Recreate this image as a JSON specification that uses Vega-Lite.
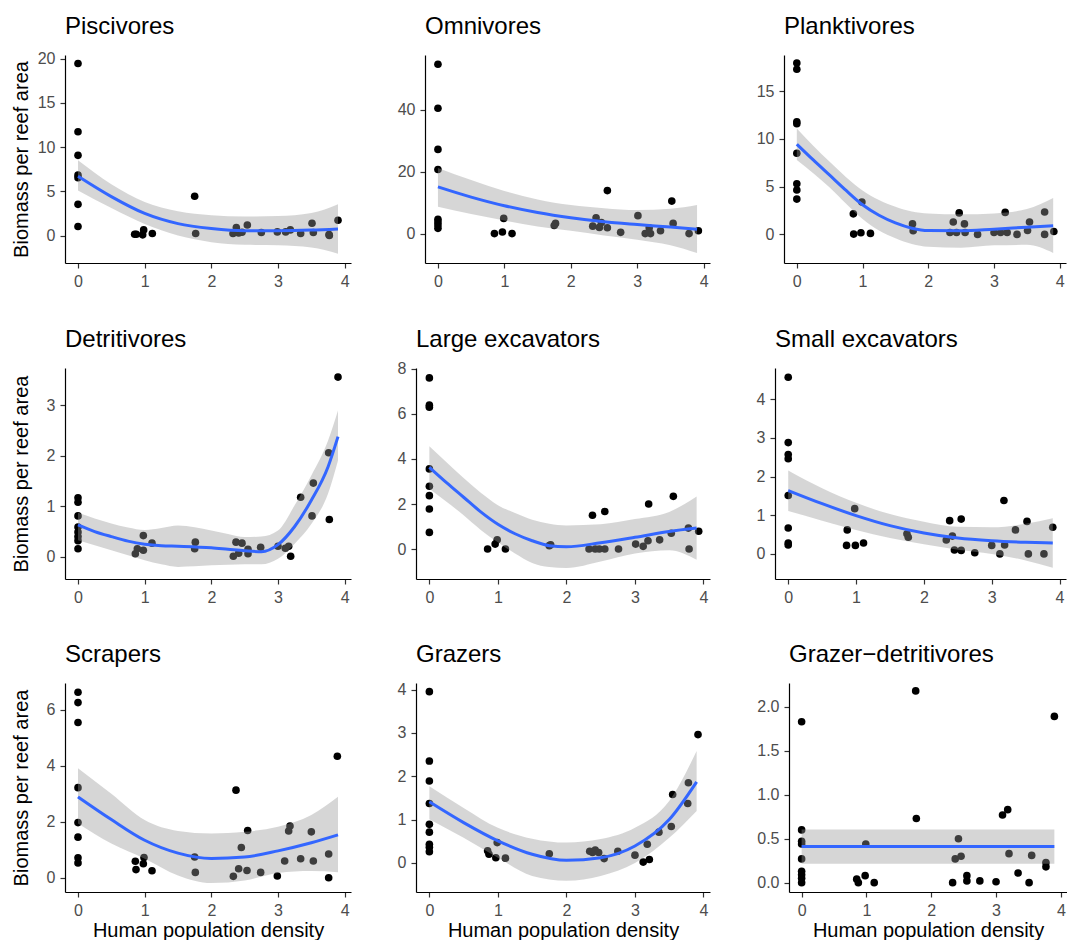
{
"$schema": "https://vega.github.io/schema/vega-lite/v6.json",
"background": "white",
"padding": {"left": 11, "top": 15, "right": 0, "bottom": 0},
"datasets": {
"pts": [
{"g":"Piscivores","x":0,"y":19.44},{"g":"Piscivores","x":0,"y":11.73},{"g":"Piscivores","x":0,"y":9.06},{"g":"Piscivores","x":0,"y":6.84},{"g":"Piscivores","x":0,"y":6.54},{"g":"Piscivores","x":0,"y":3.53},{"g":"Piscivores","x":0,"y":1.02},
{"g":"Piscivores","x":0.85,"y":0.15},{"g":"Piscivores","x":0.875,"y":0.15},{"g":"Piscivores","x":0.97,"y":0.08},{"g":"Piscivores","x":0.985,"y":0.64},{"g":"Piscivores","x":1.115,"y":0.23},{"g":"Piscivores","x":1.75,"y":4.44},{"g":"Piscivores","x":1.765,"y":0.23},{"g":"Piscivores","x":2.325,"y":0.23},{"g":"Piscivores","x":2.375,"y":0.9},{"g":"Piscivores","x":2.41,"y":0.3},{"g":"Piscivores","x":2.46,"y":0.38},{"g":"Piscivores","x":2.54,"y":1.2},{"g":"Piscivores","x":2.75,"y":0.34},{"g":"Piscivores","x":2.99,"y":0.41},{"g":"Piscivores","x":3.115,"y":0.41},{"g":"Piscivores","x":3.185,"y":0.64},{"g":"Piscivores","x":3.34,"y":0.23},{"g":"Piscivores","x":3.51,"y":1.39},{"g":"Piscivores","x":3.53,"y":0.34},{"g":"Piscivores","x":3.765,"y":0.11},{"g":"Piscivores","x":3.77,"y":0.02},{"g":"Piscivores","x":3.9,"y":1.73},
{"g":"Omnivores","x":0,"y":54.7},{"g":"Omnivores","x":0,"y":40.5},{"g":"Omnivores","x":0,"y":27.2},{"g":"Omnivores","x":0,"y":20.7},{"g":"Omnivores","x":0,"y":4.6},{"g":"Omnivores","x":0,"y":3.75},{"g":"Omnivores","x":0,"y":2.8},{"g":"Omnivores","x":0,"y":1.7},
{"g":"Omnivores","x":0.85,"y":0},{"g":"Omnivores","x":0.97,"y":0.5},{"g":"Omnivores","x":0.99,"y":4.9},{"g":"Omnivores","x":1.115,"y":0},{"g":"Omnivores","x":1.75,"y":2.6},{"g":"Omnivores","x":1.77,"y":3.3},{"g":"Omnivores","x":2.33,"y":2.4},{"g":"Omnivores","x":2.38,"y":5.1},{"g":"Omnivores","x":2.43,"y":2.0},{"g":"Omnivores","x":2.46,"y":3.6},{"g":"Omnivores","x":2.55,"y":1.9},{"g":"Omnivores","x":2.55,"y":13.9},{"g":"Omnivores","x":2.75,"y":0.4},{"g":"Omnivores","x":3.01,"y":5.8},{"g":"Omnivores","x":3.12,"y":0},{"g":"Omnivores","x":3.18,"y":1.9},{"g":"Omnivores","x":3.2,"y":0},{"g":"Omnivores","x":3.35,"y":0.9},{"g":"Omnivores","x":3.52,"y":10.5},{"g":"Omnivores","x":3.54,"y":3.3},{"g":"Omnivores","x":3.78,"y":0},{"g":"Omnivores","x":3.92,"y":0.9},
{"g":"Planktivores","x":0,"y":17.95},{"g":"Planktivores","x":0,"y":17.3},{"g":"Planktivores","x":0,"y":11.8},{"g":"Planktivores","x":0,"y":11.6},{"g":"Planktivores","x":0,"y":8.5},{"g":"Planktivores","x":0,"y":5.3},{"g":"Planktivores","x":0,"y":4.65},{"g":"Planktivores","x":0,"y":3.7},
{"g":"Planktivores","x":0.86,"y":2.15},{"g":"Planktivores","x":0.865,"y":0.03},{"g":"Planktivores","x":0.975,"y":0.17},{"g":"Planktivores","x":0.99,"y":3.4},{"g":"Planktivores","x":1.12,"y":0.1},{"g":"Planktivores","x":1.76,"y":1.1},{"g":"Planktivores","x":1.77,"y":0.38},{"g":"Planktivores","x":2.33,"y":0.2},{"g":"Planktivores","x":2.38,"y":1.3},{"g":"Planktivores","x":2.43,"y":0.2},{"g":"Planktivores","x":2.47,"y":2.25},{"g":"Planktivores","x":2.55,"y":1.1},{"g":"Planktivores","x":2.56,"y":0.2},{"g":"Planktivores","x":2.75,"y":0},{"g":"Planktivores","x":3.0,"y":0.2},{"g":"Planktivores","x":3.1,"y":0.2},{"g":"Planktivores","x":3.17,"y":2.3},{"g":"Planktivores","x":3.2,"y":0.2},{"g":"Planktivores","x":3.35,"y":0},{"g":"Planktivores","x":3.51,"y":0.4},{"g":"Planktivores","x":3.54,"y":1.3},{"g":"Planktivores","x":3.77,"y":2.35},{"g":"Planktivores","x":3.77,"y":0},{"g":"Planktivores","x":3.91,"y":0.3},
{"g":"Detritivores","x":0,"y":1.17},{"g":"Detritivores","x":0,"y":1.08},{"g":"Detritivores","x":0,"y":0.81},{"g":"Detritivores","x":0,"y":0.59},{"g":"Detritivores","x":0,"y":0.49},{"g":"Detritivores","x":0,"y":0.4},{"g":"Detritivores","x":0,"y":0.32},{"g":"Detritivores","x":0,"y":0.16},
{"g":"Detritivores","x":0.86,"y":0.06},{"g":"Detritivores","x":0.89,"y":0.16},{"g":"Detritivores","x":0.98,"y":0.42},{"g":"Detritivores","x":0.98,"y":0.13},{"g":"Detritivores","x":1.11,"y":0.27},{"g":"Detritivores","x":1.75,"y":0.16},{"g":"Detritivores","x":1.76,"y":0.29},{"g":"Detritivores","x":2.33,"y":0.01},{"g":"Detritivores","x":2.37,"y":0.29},{"g":"Detritivores","x":2.41,"y":0.07},{"g":"Detritivores","x":2.46,"y":0.27},{"g":"Detritivores","x":2.55,"y":0.15},{"g":"Detritivores","x":2.55,"y":0.06},{"g":"Detritivores","x":2.74,"y":0.19},{"g":"Detritivores","x":3.0,"y":0.21},{"g":"Detritivores","x":3.11,"y":0.17},{"g":"Detritivores","x":3.16,"y":0.21},{"g":"Detritivores","x":3.19,"y":0.01},{"g":"Detritivores","x":3.34,"y":1.18},{"g":"Detritivores","x":3.51,"y":0.81},{"g":"Detritivores","x":3.53,"y":1.46},{"g":"Detritivores","x":3.76,"y":2.06},{"g":"Detritivores","x":3.77,"y":0.74},{"g":"Detritivores","x":3.9,"y":3.56},
{"g":"Large excavators","x":0,"y":7.6},{"g":"Large excavators","x":0,"y":6.39},{"g":"Large excavators","x":0,"y":6.3},{"g":"Large excavators","x":0,"y":3.56},{"g":"Large excavators","x":0,"y":2.79},{"g":"Large excavators","x":0,"y":2.37},{"g":"Large excavators","x":0,"y":1.78},{"g":"Large excavators","x":0,"y":0.74},
{"g":"Large excavators","x":0.85,"y":0},{"g":"Large excavators","x":0.96,"y":0.22},{"g":"Large excavators","x":0.99,"y":0.41},{"g":"Large excavators","x":1.11,"y":0},{"g":"Large excavators","x":1.75,"y":0.15},{"g":"Large excavators","x":1.77,"y":0.19},{"g":"Large excavators","x":2.33,"y":0},{"g":"Large excavators","x":2.38,"y":1.5},{"g":"Large excavators","x":2.42,"y":0},{"g":"Large excavators","x":2.48,"y":0},{"g":"Large excavators","x":2.56,"y":1.67},{"g":"Large excavators","x":2.56,"y":0},{"g":"Large excavators","x":2.76,"y":0},{"g":"Large excavators","x":3.01,"y":0.22},{"g":"Large excavators","x":3.12,"y":0.12},{"g":"Large excavators","x":3.19,"y":0.37},{"g":"Large excavators","x":3.2,"y":2.0},{"g":"Large excavators","x":3.36,"y":0.41},{"g":"Large excavators","x":3.53,"y":0.7},{"g":"Large excavators","x":3.56,"y":2.34},{"g":"Large excavators","x":3.78,"y":0.93},{"g":"Large excavators","x":3.79,"y":0},{"g":"Large excavators","x":3.93,"y":0.79},
{"g":"Small excavators","x":0,"y":4.57},{"g":"Small excavators","x":0,"y":2.88},{"g":"Small excavators","x":0,"y":2.57},{"g":"Small excavators","x":0,"y":2.46},{"g":"Small excavators","x":0,"y":1.51},{"g":"Small excavators","x":0,"y":0.67},{"g":"Small excavators","x":0,"y":0.28},{"g":"Small excavators","x":0,"y":0.23},
{"g":"Small excavators","x":0.86,"y":0.22},{"g":"Small excavators","x":0.87,"y":0.62},{"g":"Small excavators","x":0.98,"y":1.17},{"g":"Small excavators","x":0.99,"y":0.22},{"g":"Small excavators","x":1.11,"y":0.28},{"g":"Small excavators","x":1.75,"y":0.52},{"g":"Small excavators","x":1.77,"y":0.43},{"g":"Small excavators","x":2.33,"y":0.36},{"g":"Small excavators","x":2.38,"y":0.86},{"g":"Small excavators","x":2.42,"y":0.46},{"g":"Small excavators","x":2.45,"y":0.1},{"g":"Small excavators","x":2.55,"y":0.9},{"g":"Small excavators","x":2.55,"y":0.09},{"g":"Small excavators","x":2.75,"y":0.03},{"g":"Small excavators","x":3.0,"y":0.22},{"g":"Small excavators","x":3.12,"y":0},{"g":"Small excavators","x":3.18,"y":1.38},{"g":"Small excavators","x":3.19,"y":0.23},{"g":"Small excavators","x":3.35,"y":0.62},{"g":"Small excavators","x":3.52,"y":0.84},{"g":"Small excavators","x":3.54,"y":0},{"g":"Small excavators","x":3.77,"y":0},{"g":"Small excavators","x":3.9,"y":0.69},
{"g":"Scrapers","x":0,"y":6.63},{"g":"Scrapers","x":0,"y":6.26},{"g":"Scrapers","x":0,"y":5.55},{"g":"Scrapers","x":0,"y":3.22},{"g":"Scrapers","x":0,"y":1.97},{"g":"Scrapers","x":0,"y":1.45},{"g":"Scrapers","x":0,"y":0.71},{"g":"Scrapers","x":0,"y":0.53},
{"g":"Scrapers","x":0.86,"y":0.59},{"g":"Scrapers","x":0.87,"y":0.29},{"g":"Scrapers","x":0.98,"y":0.5},{"g":"Scrapers","x":0.99,"y":0.72},{"g":"Scrapers","x":1.11,"y":0.25},{"g":"Scrapers","x":1.75,"y":0.74},{"g":"Scrapers","x":1.76,"y":0.19},{"g":"Scrapers","x":2.33,"y":0.05},{"g":"Scrapers","x":2.37,"y":3.13},{"g":"Scrapers","x":2.41,"y":0.32},{"g":"Scrapers","x":2.45,"y":1.08},{"g":"Scrapers","x":2.535,"y":0.26},{"g":"Scrapers","x":2.545,"y":1.69},{"g":"Scrapers","x":2.74,"y":0.19},{"g":"Scrapers","x":2.99,"y":0.06},{"g":"Scrapers","x":3.1,"y":0.6},{"g":"Scrapers","x":3.16,"y":1.67},{"g":"Scrapers","x":3.18,"y":1.85},{"g":"Scrapers","x":3.34,"y":0.68},{"g":"Scrapers","x":3.5,"y":1.64},{"g":"Scrapers","x":3.53,"y":0.6},{"g":"Scrapers","x":3.76,"y":0.85},{"g":"Scrapers","x":3.76,"y":0.0},{"g":"Scrapers","x":3.89,"y":4.34},
{"g":"Grazers","x":0,"y":3.95},{"g":"Grazers","x":0,"y":2.35},{"g":"Grazers","x":0,"y":1.89},{"g":"Grazers","x":0,"y":1.37},{"g":"Grazers","x":0,"y":0.89},{"g":"Grazers","x":0,"y":0.71},{"g":"Grazers","x":0,"y":0.43},{"g":"Grazers","x":0,"y":0.36},{"g":"Grazers","x":0,"y":0.26},
{"g":"Grazers","x":0.85,"y":0.28},{"g":"Grazers","x":0.87,"y":0.2},{"g":"Grazers","x":0.97,"y":0.12},{"g":"Grazers","x":0.99,"y":0.47},{"g":"Grazers","x":1.11,"y":0.11},{"g":"Grazers","x":1.75,"y":0.21},{"g":"Grazers","x":2.34,"y":0.27},{"g":"Grazers","x":2.38,"y":0.24},{"g":"Grazers","x":2.42,"y":0.3},{"g":"Grazers","x":2.47,"y":0.24},{"g":"Grazers","x":2.55,"y":0.1},{"g":"Grazers","x":2.75,"y":0.27},{"g":"Grazers","x":3.0,"y":0.18},{"g":"Grazers","x":3.12,"y":0.02},{"g":"Grazers","x":3.18,"y":0.43},{"g":"Grazers","x":3.21,"y":0.08},{"g":"Grazers","x":3.35,"y":0.71},{"g":"Grazers","x":3.53,"y":0.84},{"g":"Grazers","x":3.55,"y":1.58},{"g":"Grazers","x":3.77,"y":1.37},{"g":"Grazers","x":3.78,"y":1.85},{"g":"Grazers","x":3.92,"y":2.96},
{"g":"Grazer-detritivores","x":0,"y":1.83},{"g":"Grazer-detritivores","x":0,"y":0.6},{"g":"Grazer-detritivores","x":0,"y":0.47},{"g":"Grazer-detritivores","x":0,"y":0.44},{"g":"Grazer-detritivores","x":0,"y":0.27},{"g":"Grazer-detritivores","x":0,"y":0.13},{"g":"Grazer-detritivores","x":0,"y":0.09},{"g":"Grazer-detritivores","x":0,"y":0.05},{"g":"Grazer-detritivores","x":0,"y":0.0},
{"g":"Grazer-detritivores","x":0.85,"y":0.04},{"g":"Grazer-detritivores","x":0.875,"y":0},{"g":"Grazer-detritivores","x":0.98,"y":0.08},{"g":"Grazer-detritivores","x":0.99,"y":0.44},{"g":"Grazer-detritivores","x":1.12,"y":0},{"g":"Grazer-detritivores","x":1.76,"y":2.18},{"g":"Grazer-detritivores","x":1.77,"y":0.73},{"g":"Grazer-detritivores","x":2.33,"y":0},{"g":"Grazer-detritivores","x":2.37,"y":0.27},{"g":"Grazer-detritivores","x":2.42,"y":0.5},{"g":"Grazer-detritivores","x":2.46,"y":0.3},{"g":"Grazer-detritivores","x":2.55,"y":0.08},{"g":"Grazer-detritivores","x":2.55,"y":0.02},{"g":"Grazer-detritivores","x":2.75,"y":0.02},{"g":"Grazer-detritivores","x":3.0,"y":0.01},{"g":"Grazer-detritivores","x":3.1,"y":0.77},{"g":"Grazer-detritivores","x":3.18,"y":0.83},{"g":"Grazer-detritivores","x":3.2,"y":0.33},{"g":"Grazer-detritivores","x":3.34,"y":0.11},{"g":"Grazer-detritivores","x":3.51,"y":0},{"g":"Grazer-detritivores","x":3.55,"y":0.31},{"g":"Grazer-detritivores","x":3.77,"y":0.23},{"g":"Grazer-detritivores","x":3.77,"y":0.18},{"g":"Grazer-detritivores","x":3.9,"y":1.89}
],
"fit": [
{"g":"Piscivores","x":0,"f":6.7,"lo":5.1,"hi":8.5},{"g":"Piscivores","x":0.5,"f":4.4,"lo":3.1,"hi":5.8},{"g":"Piscivores","x":1,"f":2.5,"lo":1.3,"hi":3.8},{"g":"Piscivores","x":1.5,"f":1.35,"lo":0.0,"hi":2.75},{"g":"Piscivores","x":2,"f":0.8,"lo":-0.75,"hi":2.3},{"g":"Piscivores","x":2.5,"f":0.55,"lo":-1.05,"hi":2.15},{"g":"Piscivores","x":3,"f":0.55,"lo":-1.1,"hi":2.2},{"g":"Piscivores","x":3.5,"f":0.62,"lo":-1.35,"hi":2.55},{"g":"Piscivores","x":3.9,"f":0.75,"lo":-2.05,"hi":3.55},
{"g":"Omnivores","x":0,"f":15.1,"lo":8.7,"hi":21.2},{"g":"Omnivores","x":0.5,"f":11.8,"lo":6.3,"hi":17.3},{"g":"Omnivores","x":1,"f":9.0,"lo":4.2,"hi":13.8},{"g":"Omnivores","x":1.5,"f":6.8,"lo":2.3,"hi":11.0},{"g":"Omnivores","x":2,"f":5.1,"lo":0.9,"hi":9.2},{"g":"Omnivores","x":2.5,"f":3.8,"lo":-0.6,"hi":8.2},{"g":"Omnivores","x":3,"f":2.9,"lo":-2.0,"hi":7.6},{"g":"Omnivores","x":3.5,"f":2.1,"lo":-3.8,"hi":8.0},{"g":"Omnivores","x":3.9,"f":1.4,"lo":-6.3,"hi":9.2},
{"g":"Planktivores","x":0,"f":9.45,"lo":7.8,"hi":11.1},{"g":"Planktivores","x":0.25,"f":7.8,"lo":6.4,"hi":9.3},{"g":"Planktivores","x":0.5,"f":6.2,"lo":4.9,"hi":7.6},{"g":"Planktivores","x":0.75,"f":4.6,"lo":3.2,"hi":6.0},{"g":"Planktivores","x":1,"f":3.1,"lo":1.6,"hi":4.6},{"g":"Planktivores","x":1.25,"f":2.0,"lo":0.4,"hi":3.6},{"g":"Planktivores","x":1.5,"f":1.2,"lo":-0.4,"hi":2.9},{"g":"Planktivores","x":1.75,"f":0.65,"lo":-1.0,"hi":2.4},{"g":"Planktivores","x":2,"f":0.4,"lo":-1.3,"hi":2.2},{"g":"Planktivores","x":2.5,"f":0.38,"lo":-1.4,"hi":2.1},{"g":"Planktivores","x":3,"f":0.55,"lo":-1.15,"hi":2.2},{"g":"Planktivores","x":3.5,"f":0.75,"lo":-1.1,"hi":2.65},{"g":"Planktivores","x":3.9,"f":0.9,"lo":-1.95,"hi":3.8},
{"g":"Detritivores","x":0,"f":0.63,"lo":0.33,"hi":0.87},{"g":"Detritivores","x":0.25,"f":0.5,"lo":0.23,"hi":0.76},{"g":"Detritivores","x":0.5,"f":0.4,"lo":0.13,"hi":0.66},{"g":"Detritivores","x":0.75,"f":0.31,"lo":0.03,"hi":0.58},{"g":"Detritivores","x":1,"f":0.25,"lo":-0.07,"hi":0.53},{"g":"Detritivores","x":1.25,"f":0.22,"lo":-0.15,"hi":0.57},{"g":"Detritivores","x":1.5,"f":0.21,"lo":-0.2,"hi":0.62},{"g":"Detritivores","x":2,"f":0.18,"lo":-0.17,"hi":0.52},{"g":"Detritivores","x":2.25,"f":0.15,"lo":-0.16,"hi":0.45},{"g":"Detritivores","x":2.5,"f":0.12,"lo":-0.15,"hi":0.39},{"g":"Detritivores","x":2.75,"f":0.1,"lo":-0.15,"hi":0.4},{"g":"Detritivores","x":3,"f":0.24,"lo":-0.04,"hi":0.52},{"g":"Detritivores","x":3.25,"f":0.6,"lo":0.26,"hi":1.02},{"g":"Detritivores","x":3.5,"f":1.12,"lo":0.65,"hi":1.61},{"g":"Detritivores","x":3.75,"f":1.78,"lo":1.25,"hi":2.3},{"g":"Detritivores","x":3.9,"f":2.38,"lo":1.91,"hi":2.9},
{"g":"Large excavators","x":0,"f":3.63,"lo":2.68,"hi":4.56},{"g":"Large excavators","x":0.25,"f":2.95,"lo":2.1,"hi":3.85},{"g":"Large excavators","x":0.5,"f":2.3,"lo":1.5,"hi":3.15},{"g":"Large excavators","x":0.75,"f":1.65,"lo":0.85,"hi":2.5},{"g":"Large excavators","x":1,"f":1.1,"lo":0.3,"hi":1.95},{"g":"Large excavators","x":1.25,"f":0.68,"lo":-0.2,"hi":1.6},{"g":"Large excavators","x":1.5,"f":0.37,"lo":-0.62,"hi":1.3},{"g":"Large excavators","x":1.75,"f":0.15,"lo":-0.8,"hi":1.12},{"g":"Large excavators","x":2,"f":0.1,"lo":-0.84,"hi":1.05},{"g":"Large excavators","x":2.5,"f":0.28,"lo":-0.55,"hi":1.1},{"g":"Large excavators","x":3,"f":0.52,"lo":-0.2,"hi":1.33},{"g":"Large excavators","x":3.5,"f":0.78,"lo":-0.05,"hi":1.65},{"g":"Large excavators","x":3.9,"f":0.93,"lo":-0.47,"hi":2.33},
{"g":"Small excavators","x":0,"f":1.64,"lo":1.11,"hi":2.16},{"g":"Small excavators","x":0.5,"f":1.3,"lo":0.86,"hi":1.7},{"g":"Small excavators","x":1,"f":0.99,"lo":0.62,"hi":1.32},{"g":"Small excavators","x":1.5,"f":0.73,"lo":0.41,"hi":1.03},{"g":"Small excavators","x":2,"f":0.54,"lo":0.25,"hi":0.83},{"g":"Small excavators","x":2.5,"f":0.41,"lo":0.11,"hi":0.7},{"g":"Small excavators","x":3,"f":0.34,"lo":0.0,"hi":0.69},{"g":"Small excavators","x":3.5,"f":0.3,"lo":-0.17,"hi":0.78},{"g":"Small excavators","x":3.9,"f":0.28,"lo":-0.36,"hi":0.92},
{"g":"Scrapers","x":0,"f":2.89,"lo":1.94,"hi":3.91},{"g":"Scrapers","x":0.5,"f":2.08,"lo":1.22,"hi":3.0},{"g":"Scrapers","x":1,"f":1.34,"lo":0.68,"hi":2.06},{"g":"Scrapers","x":1.5,"f":0.88,"lo":0.08,"hi":1.67},{"g":"Scrapers","x":2,"f":0.69,"lo":-0.19,"hi":1.58},{"g":"Scrapers","x":2.5,"f":0.74,"lo":-0.1,"hi":1.64},{"g":"Scrapers","x":3,"f":0.96,"lo":0.17,"hi":1.82},{"g":"Scrapers","x":3.5,"f":1.25,"lo":0.24,"hi":2.24},{"g":"Scrapers","x":3.9,"f":1.53,"lo":0.2,"hi":2.89},
{"g":"Grazers","x":0,"f":1.41,"lo":1.01,"hi":1.77},{"g":"Grazers","x":0.5,"f":0.93,"lo":0.58,"hi":1.27},{"g":"Grazers","x":1,"f":0.51,"lo":0.12,"hi":0.81},{"g":"Grazers","x":1.5,"f":0.2,"lo":-0.3,"hi":0.56},{"g":"Grazers","x":2,"f":0.06,"lo":-0.41,"hi":0.47},{"g":"Grazers","x":2.5,"f":0.12,"lo":-0.3,"hi":0.55},{"g":"Grazers","x":3,"f":0.39,"lo":0.0,"hi":0.81},{"g":"Grazers","x":3.5,"f":1.0,"lo":0.58,"hi":1.43},{"g":"Grazers","x":3.9,"f":1.87,"lo":1.2,"hi":2.58},
{"g":"Grazer-detritivores","x":0,"f":0.41,"lo":0.215,"hi":0.605},{"g":"Grazer-detritivores","x":3.9,"f":0.41,"lo":0.215,"hi":0.605}
]
},
"spacing": 38,
"vconcat": [
{"spacing": 46, "hconcat": [
{"width": 286, "height": 208, "title": {"text": "Piscivores", "offset": 11.5},
 "encoding": {"x": {"field": "x", "type": "quantitative", "scale": {"domain": [-0.195, 4.095], "nice": false, "zero": false}, "axis": {"values": [0,1,2,3,4], "format": "d"}, "title": null}},
 "layer": [
  {"data": {"name": "pts"}, "transform": [{"filter": "datum.g === 'Piscivores'"}], "mark": {"type": "circle", "size": 58, "color": "#000000", "opacity": 1}, "encoding": {"y": {"field": "y", "type": "quantitative", "scale": {"domain": [-3.1, 20.4], "nice": false, "zero": false}, "axis": {"values": [0,5,10,15,20], "format": "d"}, "title": "Biomass per reef area"}}},
  {"data": {"name": "fit"}, "transform": [{"filter": "datum.g === 'Piscivores'"}], "mark": {"type": "area", "color": "#999999", "opacity": 0.4, "interpolate": "monotone"}, "encoding": {"y": {"field": "lo", "type": "quantitative", "scale": {"domain": [-3.1, 20.4], "nice": false, "zero": false}, "title": "Biomass per reef area"}, "y2": {"field": "hi"}}},
  {"data": {"name": "fit"}, "transform": [{"filter": "datum.g === 'Piscivores'"}], "mark": {"type": "line", "color": "#3366FF", "strokeWidth": 3, "interpolate": "monotone"}, "encoding": {"y": {"field": "f", "type": "quantitative", "scale": {"domain": [-3.1, 20.4], "nice": false, "zero": false}, "title": "Biomass per reef area"}}}
 ]},
{"width": 285, "height": 208, "title": {"text": "Omnivores", "offset": 16},
 "encoding": {"x": {"field": "x", "type": "quantitative", "scale": {"domain": [-0.195, 4.095], "nice": false, "zero": false}, "axis": {"values": [0,1,2,3,4], "format": "d"}, "title": null}},
 "layer": [
  {"data": {"name": "pts"}, "transform": [{"filter": "datum.g === 'Omnivores'"}], "mark": {"type": "circle", "size": 58, "color": "#000000", "opacity": 1}, "encoding": {"y": {"field": "y", "type": "quantitative", "scale": {"domain": [-9.5, 57.7], "nice": false, "zero": false}, "axis": {"values": [0,20,40], "format": "d"}, "title": null}}},
  {"data": {"name": "fit"}, "transform": [{"filter": "datum.g === 'Omnivores'"}], "mark": {"type": "area", "color": "#999999", "opacity": 0.4, "interpolate": "monotone"}, "encoding": {"y": {"field": "lo", "type": "quantitative", "scale": {"domain": [-9.5, 57.7], "nice": false, "zero": false}, "title": null}, "y2": {"field": "hi"}}},
  {"data": {"name": "fit"}, "transform": [{"filter": "datum.g === 'Omnivores'"}], "mark": {"type": "line", "color": "#3366FF", "strokeWidth": 3, "interpolate": "monotone"}, "encoding": {"y": {"field": "f", "type": "quantitative", "scale": {"domain": [-9.5, 57.7], "nice": false, "zero": false}, "title": null}}}
 ]},
{"width": 282, "height": 208, "title": {"text": "Planktivores", "offset": 16},
 "encoding": {"x": {"field": "x", "type": "quantitative", "scale": {"domain": [-0.195, 4.095], "nice": false, "zero": false}, "axis": {"values": [0,1,2,3,4], "format": "d"}, "title": null}},
 "layer": [
  {"data": {"name": "pts"}, "transform": [{"filter": "datum.g === 'Planktivores'"}], "mark": {"type": "circle", "size": 58, "color": "#000000", "opacity": 1}, "encoding": {"y": {"field": "y", "type": "quantitative", "scale": {"domain": [-3.0, 18.8], "nice": false, "zero": false}, "axis": {"values": [0,5,10,15], "format": "d"}, "title": null}}},
  {"data": {"name": "fit"}, "transform": [{"filter": "datum.g === 'Planktivores'"}], "mark": {"type": "area", "color": "#999999", "opacity": 0.4, "interpolate": "monotone"}, "encoding": {"y": {"field": "lo", "type": "quantitative", "scale": {"domain": [-3.0, 18.8], "nice": false, "zero": false}, "title": null}, "y2": {"field": "hi"}}},
  {"data": {"name": "fit"}, "transform": [{"filter": "datum.g === 'Planktivores'"}], "mark": {"type": "line", "color": "#3366FF", "strokeWidth": 3, "interpolate": "monotone"}, "encoding": {"y": {"field": "f", "type": "quantitative", "scale": {"domain": [-3.0, 18.8], "nice": false, "zero": false}, "title": null}}}
 ]}
]},
{"spacing": 46, "hconcat": [
{"width": 286, "height": 211, "title": {"text": "Detritivores", "offset": 16},
 "encoding": {"x": {"field": "x", "type": "quantitative", "scale": {"domain": [-0.195, 4.095], "nice": false, "zero": false}, "axis": {"values": [0,1,2,3,4], "format": "d"}, "title": null}},
 "layer": [
  {"data": {"name": "pts"}, "transform": [{"filter": "datum.g === 'Detritivores'"}], "mark": {"type": "circle", "size": 58, "color": "#000000", "opacity": 1}, "encoding": {"y": {"field": "y", "type": "quantitative", "scale": {"domain": [-0.44, 3.74], "nice": false, "zero": false}, "axis": {"values": [0,1,2,3], "format": "d", "titlePadding": 15}, "title": "Biomass per reef area"}}},
  {"data": {"name": "fit"}, "transform": [{"filter": "datum.g === 'Detritivores'"}], "mark": {"type": "area", "color": "#999999", "opacity": 0.4, "interpolate": "monotone"}, "encoding": {"y": {"field": "lo", "type": "quantitative", "scale": {"domain": [-0.44, 3.74], "nice": false, "zero": false}, "title": "Biomass per reef area"}, "y2": {"field": "hi"}}},
  {"data": {"name": "fit"}, "transform": [{"filter": "datum.g === 'Detritivores'"}], "mark": {"type": "line", "color": "#3366FF", "strokeWidth": 3, "interpolate": "monotone"}, "encoding": {"y": {"field": "f", "type": "quantitative", "scale": {"domain": [-0.44, 3.74], "nice": false, "zero": false}, "title": "Biomass per reef area"}}}
 ]},
{"width": 294, "height": 211, "title": {"text": "Large excavators", "offset": 9},
 "encoding": {"x": {"field": "x", "type": "quantitative", "scale": {"domain": [-0.195, 4.095], "nice": false, "zero": false}, "axis": {"values": [0,1,2,3,4], "format": "d"}, "title": null}},
 "layer": [
  {"data": {"name": "pts"}, "transform": [{"filter": "datum.g === 'Large excavators'"}], "mark": {"type": "circle", "size": 58, "color": "#000000", "opacity": 1}, "encoding": {"y": {"field": "y", "type": "quantitative", "scale": {"domain": [-1.33, 8.04], "nice": false, "zero": false}, "axis": {"values": [0,2,4,6,8], "format": "d"}, "title": null}}},
  {"data": {"name": "fit"}, "transform": [{"filter": "datum.g === 'Large excavators'"}], "mark": {"type": "area", "color": "#999999", "opacity": 0.4, "interpolate": "monotone"}, "encoding": {"y": {"field": "lo", "type": "quantitative", "scale": {"domain": [-1.33, 8.04], "nice": false, "zero": false}, "title": null}, "y2": {"field": "hi"}}},
  {"data": {"name": "fit"}, "transform": [{"filter": "datum.g === 'Large excavators'"}], "mark": {"type": "line", "color": "#3366FF", "strokeWidth": 3, "interpolate": "monotone"}, "encoding": {"y": {"field": "f", "type": "quantitative", "scale": {"domain": [-1.33, 8.04], "nice": false, "zero": false}, "title": null}}}
 ]},
{"width": 291, "height": 211, "title": {"text": "Small excavators", "offset": 16},
 "encoding": {"x": {"field": "x", "type": "quantitative", "scale": {"domain": [-0.195, 4.095], "nice": false, "zero": false}, "axis": {"values": [0,1,2,3,4], "format": "d"}, "title": null}},
 "layer": [
  {"data": {"name": "pts"}, "transform": [{"filter": "datum.g === 'Small excavators'"}], "mark": {"type": "circle", "size": 58, "color": "#000000", "opacity": 1}, "encoding": {"y": {"field": "y", "type": "quantitative", "scale": {"domain": [-0.65, 4.81], "nice": false, "zero": false}, "axis": {"values": [0,1,2,3,4], "format": "d"}, "title": null}}},
  {"data": {"name": "fit"}, "transform": [{"filter": "datum.g === 'Small excavators'"}], "mark": {"type": "area", "color": "#999999", "opacity": 0.4, "interpolate": "monotone"}, "encoding": {"y": {"field": "lo", "type": "quantitative", "scale": {"domain": [-0.65, 4.81], "nice": false, "zero": false}, "title": null}, "y2": {"field": "hi"}}},
  {"data": {"name": "fit"}, "transform": [{"filter": "datum.g === 'Small excavators'"}], "mark": {"type": "line", "color": "#3366FF", "strokeWidth": 3, "interpolate": "monotone"}, "encoding": {"y": {"field": "f", "type": "quantitative", "scale": {"domain": [-0.65, 4.81], "nice": false, "zero": false}, "title": null}}}
 ]}
]},
{"spacing": 46, "hconcat": [
{"width": 286, "height": 209, "title": {"text": "Scrapers", "offset": 16},
 "encoding": {"x": {"field": "x", "type": "quantitative", "scale": {"domain": [-0.195, 4.095], "nice": false, "zero": false}, "axis": {"values": [0,1,2,3,4], "format": "d"}, "title": "Human population density"}},
 "layer": [
  {"data": {"name": "pts"}, "transform": [{"filter": "datum.g === 'Scrapers'"}], "mark": {"type": "circle", "size": 58, "color": "#000000", "opacity": 1}, "encoding": {"y": {"field": "y", "type": "quantitative", "scale": {"domain": [-0.51, 6.96], "nice": false, "zero": false}, "axis": {"values": [0,2,4,6], "format": "d", "titlePadding": 15}, "title": "Biomass per reef area"}}},
  {"data": {"name": "fit"}, "transform": [{"filter": "datum.g === 'Scrapers'"}], "mark": {"type": "area", "color": "#999999", "opacity": 0.4, "interpolate": "monotone"}, "encoding": {"y": {"field": "lo", "type": "quantitative", "scale": {"domain": [-0.51, 6.96], "nice": false, "zero": false}, "title": "Biomass per reef area"}, "y2": {"field": "hi"}}},
  {"data": {"name": "fit"}, "transform": [{"filter": "datum.g === 'Scrapers'"}], "mark": {"type": "line", "color": "#3366FF", "strokeWidth": 3, "interpolate": "monotone"}, "encoding": {"y": {"field": "f", "type": "quantitative", "scale": {"domain": [-0.51, 6.96], "nice": false, "zero": false}, "title": "Biomass per reef area"}}}
 ]},
{"width": 294, "height": 209, "title": {"text": "Grazers", "offset": 14.5},
 "encoding": {"x": {"field": "x", "type": "quantitative", "scale": {"domain": [-0.195, 4.095], "nice": false, "zero": false}, "axis": {"values": [0,1,2,3,4], "format": "d"}, "title": "Human population density"}},
 "layer": [
  {"data": {"name": "pts"}, "transform": [{"filter": "datum.g === 'Grazers'"}], "mark": {"type": "circle", "size": 58, "color": "#000000", "opacity": 1}, "encoding": {"y": {"field": "y", "type": "quantitative", "scale": {"domain": [-0.67, 4.15], "nice": false, "zero": false}, "axis": {"values": [0,1,2,3,4], "format": "d"}, "title": null}}},
  {"data": {"name": "fit"}, "transform": [{"filter": "datum.g === 'Grazers'"}], "mark": {"type": "area", "color": "#999999", "opacity": 0.4, "interpolate": "monotone"}, "encoding": {"y": {"field": "lo", "type": "quantitative", "scale": {"domain": [-0.67, 4.15], "nice": false, "zero": false}, "title": null}, "y2": {"field": "hi"}}},
  {"data": {"name": "fit"}, "transform": [{"filter": "datum.g === 'Grazers'"}], "mark": {"type": "line", "color": "#3366FF", "strokeWidth": 3, "interpolate": "monotone"}, "encoding": {"y": {"field": "f", "type": "quantitative", "scale": {"domain": [-0.67, 4.15], "nice": false, "zero": false}, "title": null}}}
 ]},
{"width": 278, "height": 209, "title": {"text": "Grazer−detritivores", "offset": 16},
 "encoding": {"x": {"field": "x", "type": "quantitative", "scale": {"domain": [-0.195, 4.095], "nice": false, "zero": false}, "axis": {"values": [0,1,2,3,4], "format": "d"}, "title": "Human population density"}},
 "layer": [
  {"data": {"name": "pts"}, "transform": [{"filter": "datum.g === 'Grazer-detritivores'"}], "mark": {"type": "circle", "size": 58, "color": "#000000", "opacity": 1}, "encoding": {"y": {"field": "y", "type": "quantitative", "scale": {"domain": [-0.106, 2.27], "nice": false, "zero": false}, "axis": {"values": [0,0.5,1,1.5,2], "format": ".1f"}, "title": null}}},
  {"data": {"name": "fit"}, "transform": [{"filter": "datum.g === 'Grazer-detritivores'"}], "mark": {"type": "area", "color": "#999999", "opacity": 0.4}, "encoding": {"y": {"field": "lo", "type": "quantitative", "scale": {"domain": [-0.106, 2.27], "nice": false, "zero": false}, "title": null}, "y2": {"field": "hi"}}},
  {"data": {"name": "fit"}, "transform": [{"filter": "datum.g === 'Grazer-detritivores'"}], "mark": {"type": "line", "color": "#3366FF", "strokeWidth": 3}, "encoding": {"y": {"field": "f", "type": "quantitative", "scale": {"domain": [-0.106, 2.27], "nice": false, "zero": false}, "title": null}}}
 ]}
]}
],
"config": {
 "font": "Liberation Sans",
 "view": {"stroke": null},
 "axis": {"domainColor": "#000000", "domainWidth": 1.2, "tickColor": "#333333", "tickWidth": 1.2, "tickSize": 5, "labelColor": "#4d4d4d", "labelFont": "Liberation Sans", "labelFontSize": 16, "labelPadding": 5, "titleFont": "Liberation Sans", "titleFontSize": 20, "titleFontWeight": "normal", "titleColor": "#000000", "grid": false, "labelFlush": false, "labelOverlap": false, "titlePadding": 6},
 "axisX": {"titlePadding": 2},
 "title": {"font": "Liberation Sans", "fontSize": 24, "fontWeight": "normal", "color": "#000000", "anchor": "start", "frame": "group", "baseline": "alphabetic"}
}
}
